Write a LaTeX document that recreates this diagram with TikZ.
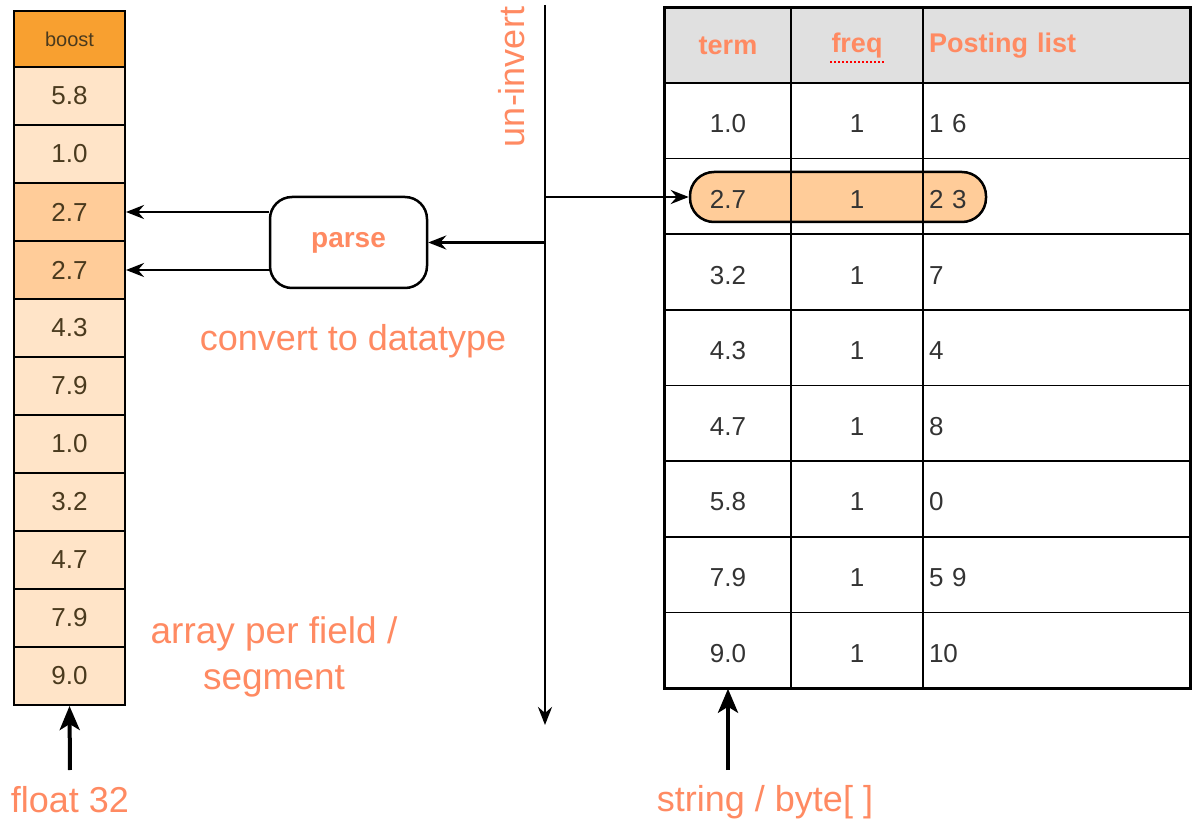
\documentclass[tikz,border=0pt]{standalone}
\usepackage{fontspec}
\setmainfont{Liberation Sans}
\usetikzlibrary{arrows.meta,calc}
\definecolor{salmon}{RGB}{255,138,98}
\definecolor{boostc}{RGB}{248,160,48}
\definecolor{lightc}{RGB}{255,228,200}
\definecolor{darkc}{RGB}{255,204,153}
\definecolor{celltext}{RGB}{74,58,30}
\definecolor{tabtext}{RGB}{51,51,51}
\definecolor{headc}{RGB}{224,224,224}
\tikzset{
  cell/.style={draw, line width=2pt, minimum width=111pt, minimum height=58pt, inner sep=0pt,
    font=\fontsize{26}{30}\selectfont, text=celltext},
  tcell/.style={draw, line width=1.5pt, minimum height=75.625pt, inner sep=0pt, text height=24pt, text depth=0pt,
    font=\fontsize{26}{30}\selectfont, text=tabtext},
  pcell/.style={tcell, inner xsep=6pt, text width=255pt, align=left},
  hcell/.style={draw, line width=1.5pt, fill=headc, minimum height=75pt, inner sep=0pt,
    font=\fontsize{27}{30}\selectfont\bfseries, text=salmon},
  conn/.style={line width=2.8pt, -{Stealth[length=18pt,width=14pt,inset=6pt]}},
  bigarr/.style={line width=4pt, -{Stealth[length=24pt,width=20pt,inset=6pt]}},
  lbl/.style={font=\fontsize{36}{44}\selectfont, text=salmon},
  pillstyle/.style={draw, line width=2.5pt, fill=darkc, rounded corners=24pt,
    minimum width=296pt, minimum height=50pt},
}
\begin{document}
\begin{tikzpicture}[x=1pt,y=-1pt]
\useasboundingbox (0,0) rectangle (1192,826);

% left array
\node[cell, fill=boostc, minimum height=57pt, font=\fontsize{20}{24}\selectfont] (c0) at (69.5,39.5) {boost};
\foreach \v/\f [count=\i] in {5.8/lightc,1.0/lightc,2.7/darkc,2.7/darkc,4.3/lightc,7.9/lightc,1.0/lightc,3.2/lightc,4.7/lightc,7.9/lightc,9.0/lightc}
  \node[cell, fill=\f] (c\i) at (69.5,{38+58*\i}) {\v};

% parse box
\node[draw, line width=2.5pt, rounded corners=22pt, minimum width=157pt, minimum height=91pt,
  font=\fontsize{28}{32}\selectfont\bfseries, text=salmon] (parse) at (348.5,242.5) {parse};

% table highlight pill (behind the grid)
\node[pillstyle] (pill) at (838,197) {};

% table header
\node[hcell, minimum width=126pt] (h1) at (728,45.5) {term};
\node[hcell, minimum width=132pt] (h2) at (857,45.5) {freq};
\node[hcell, minimum width=267pt, inner xsep=6pt, text width=255pt, align=left] (h3) at (1056.5,45.5) {Posting list};
\draw[red, dotted, line width=2pt] ($(h2.south)+(-27,-22)$) -- ++(54,0);

% table body
\foreach \t/\q/\p [count=\i] in {1.0/1/1 6, 2.7/1/2 3, 3.2/1/7, 4.3/1/4, 4.7/1/8, 5.8/1/0, 7.9/1/5 9, 9.0/1/10}{
  \node[tcell, minimum width=126pt] (t\i a) at (728,{45.1875+75.625*\i}) {\t};
  \node[tcell, minimum width=132pt] (t\i b) at (857,{45.1875+75.625*\i}) {\q};
  \node[pcell] (t\i c) at (1056.5,{45.1875+75.625*\i}) {\p};
}
\draw[line width=3pt] (h1.north west) rectangle (t8c.south east);

% vertical un-invert line
\coordinate (vt) at (545,5);
\coordinate (vb) at (545,725);
\draw[conn] (vt) -- (vb);
\node[lbl, rotate=90] (uninv) at (512,77) {un-invert};

% connectors
\draw[conn] (vt |- pill.west) -- (pill.west);
\draw[conn] (vt |- parse.east) -- (parse.east);
\draw[conn] (parse.west |- c3) -- (c3.east);
\draw[conn] (parse.west |- c4) -- (c4.east);

% labels
\node[lbl] (conv) at (353,341) {convert to datatype};
\node[lbl, font=\fontsize{37}{46}\selectfont, align=center] (arr) at (274,657) {array per field /\\segment};
\node[lbl] (f32) at (70,800) {float 32};
\node[lbl] (sb) at (765,802) {string / byte[ ]};

% bottom arrows
\coordinate (a1) at (70,770);
\coordinate (a2) at (728,770);
\draw[bigarr] (a1) -- (c11.south);
\draw[bigarr] (a2) -- (t8a.south);
\end{tikzpicture}
\end{document}
